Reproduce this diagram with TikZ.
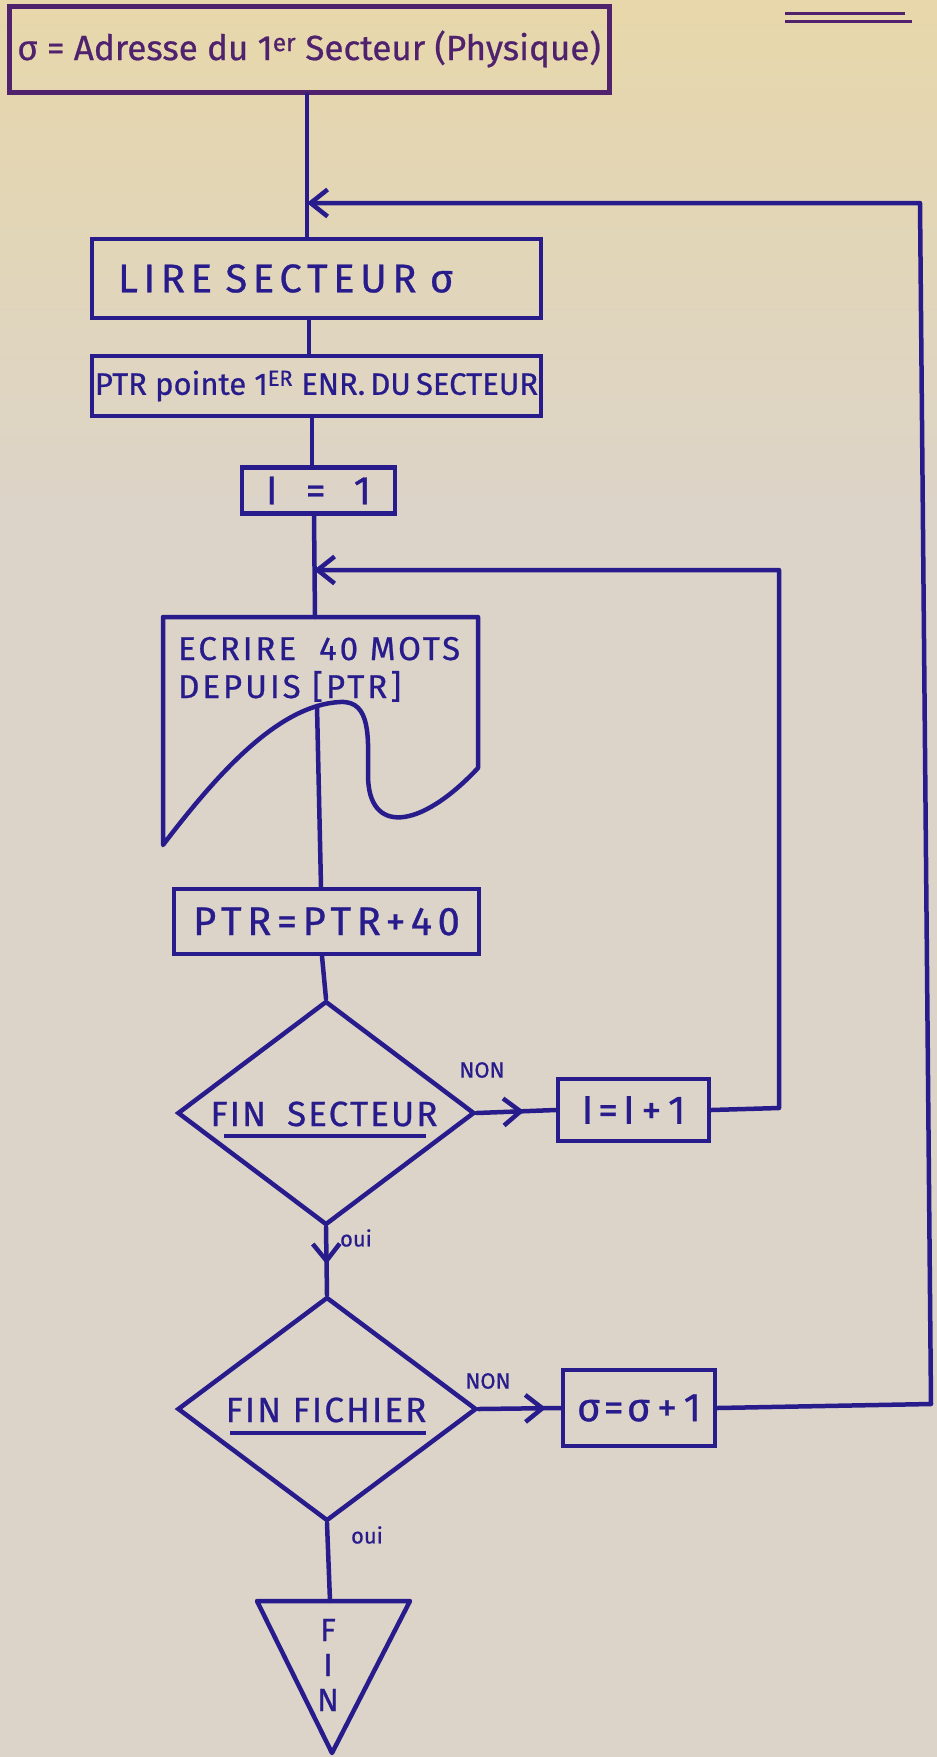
\documentclass[tikz,border=0pt]{standalone}
\usepackage{fontspec}
\setmainfont{Fira Sans}[FakeBold=0.7]
\usetikzlibrary{shapes.geometric, arrows.meta, decorations.markings}
\definecolor{ink}{RGB}{40,28,140}
\definecolor{inkp}{RGB}{80,34,110}
\definecolor{paperA}{RGB}{231,215,170}
\definecolor{paperB}{RGB}{220,212,201}
\newcommand{\ls}[1]{\addfontfeatures{LetterSpace=#1}}
\begin{document}
\begin{tikzpicture}[x=1pt,y=-1pt,
  box/.style={draw=ink, line width=4.5pt, inner sep=0pt, text=ink, rectangle},
  dec/.style={draw=ink, line width=4.5pt, diamond, inner sep=0pt},
  conn/.style={draw=ink, line width=4.5pt, line cap=round, line join=round},
  lab/.style={text=ink, inner sep=0pt, font=\fontsize{22}{24}\selectfont},
  txt/.style={text=ink, inner sep=0pt},
  tip/.style={-{Straight Barb[length=17pt,width=27pt]}},
  midtip/.style={postaction={decorate}, decoration={markings, mark=at position #1 with {\arrow{Straight Barb[length=17pt,width=27pt]}}}},
]
% paper
\fill[paperB] (0,0) rectangle (937,1757);
\shade[top color=paperA, bottom color=paperB] (0,0) rectangle (937,520);
\useasboundingbox (0,0) rectangle (937,1757);

% top-right double underline
\draw[inkp, line width=3pt] (785,13) -- (905,13);
\draw[inkp, line width=3pt] (785,21) -- (912,21);

% nodes
\node[box, draw=inkp, line width=5pt, text=inkp, minimum width=600pt, minimum height=86pt,
      font=\fontsize{35}{37}\selectfont] (top) at (309,49) {σ = Adresse du 1\textsuperscript{er} Secteur (Physique)};
\node[box, text width=397pt, inner xsep=26pt, minimum height=79pt, align=left,
      font=\fontsize{40}{42}\selectfont\ls{14}] (lire) at (316.5,278.5) {LIRE SECTEUR σ};
\node[box, minimum width=449pt, minimum height=60pt,
      font=\fontsize{31}{33}\selectfont] (ptr) at (316.5,386) {PTR pointe 1\textsuperscript{ER} ENR.\,DU\,SECTEUR};
\node[box, minimum width=153pt, minimum height=46pt,
      font=\fontsize{40}{42}\selectfont] (i1) at (318.5,490.5) {I\hspace{0.7em}=\hspace{0.7em}1};

% document shape
\draw[ink, line width=4.5pt, line join=round] (163,845) -- (163,617) -- (478,617) -- (478,768)
  .. controls (420,830) and (368,835) .. (368,775)
  .. controls (368,740) and (372,700) .. (340,702)
  .. controls (280,705) and (220,770) .. (163,845) -- cycle;
\coordinate (doctop) at (315,617);
\coordinate (docwave) at (317,706);
\node[txt, anchor=base west, font=\fontsize{33}{35}\selectfont\ls{9}] (ecr1) at (178,660) {ECRIRE\hspace{0.7em}40 MOTS};
\node[txt, anchor=base west, font=\fontsize{33}{35}\selectfont\ls{9}] (ecr2) at (178,698) {DEPUIS [PTR]};

\node[box, minimum width=305pt, minimum height=65pt,
      font=\fontsize{40}{42}\selectfont\ls{14}] (p40) at (326.5,921.5) {PTR=PTR+40};

\node[dec, minimum width=297pt, minimum height=224pt] (d1) at (326,1113) {};
\node[txt, anchor=base, font=\fontsize{35}{37}\selectfont\ls{6}] (d1t) at (324,1126) {FIN\hspace{0.6em}SECTEUR};
\draw[ink, line width=3.5pt] (224,1136) -- (426,1136);

\node[box, minimum width=151pt, minimum height=62pt,
      font=\fontsize{40}{42}\selectfont\ls{12}] (iinc) at (633.5,1110) {I=I\,+\,1};

\node[dec, minimum width=299pt, minimum height=224pt] (d2) at (327,1409) {};
\node[txt, anchor=base, font=\fontsize{35}{37}\selectfont\ls{6}] (d2t) at (326,1422) {FIN FICHIER};
\draw[ink, line width=3.5pt] (230,1433) -- (426,1433);

\node[box, minimum width=152pt, minimum height=76pt,
      font=\fontsize{40}{42}\selectfont\ls{8}] (sinc) at (639,1408) {σ=σ\,+\,1};

% labels
\node[lab] (non1) at (482,1070) {NON};
\node[lab] (oui1) at (356,1238) {oui};
\node[lab] (non2) at (488,1381) {NON};
\node[lab] (oui2) at (367,1535) {oui};

% FIN triangle
\draw[ink, line width=4.5pt, line join=round] (257,1601) -- (410,1601) -- (332,1753) -- cycle;
\coordinate (fintop) at (330,1601);
\node[txt, font=\fontsize{32}{34}\selectfont] (fF) at (328,1630) {F};
\node[txt, font=\fontsize{32}{34}\selectfont] (fI) at (328,1665) {I};
\node[txt, font=\fontsize{32}{34}\selectfont] (fN) at (328,1700) {N};

% junctions
\coordinate (j1) at (307,203);
\coordinate (j2) at (314,570);
\coordinate (c1) at (920,203);
\coordinate (c2) at (931,1404);
\coordinate (c3) at (779,570);
\coordinate (c4) at (779,1108);
\coordinate (s2) at (309,0);
\coordinate (s3) at (312,0);
\coordinate (s5) at (321,0);
\coordinate (s6) at (322,0);

% connectors
\draw[conn] (top.south -| j1) -- (lire.north -| j1);
\draw[conn] (lire.south -| s2) -- (ptr.north -| s2);
\draw[conn] (ptr.south -| s3) -- (i1.north -| s3);
\draw[conn] (i1.south -| j2) -- (doctop);
\draw[conn] (docwave) -- (p40.north -| s5);
\draw[conn] (p40.south -| s6) -- (d1.north);
\draw[conn, midtip=0.6] (d1.east) -- (iinc.west);
\draw[conn, tip] (iinc.east) -- (c4) -- (c3) -- (j2);
\draw[conn, midtip=0.55] (d1.south) -- (d2.north);
\draw[conn, midtip=0.82] (d2.east) -- (sinc.west);
\draw[conn, tip] (sinc.east) -- (c2) -- (c1) -- (j1);
\draw[conn] (d2.south) -- (fintop);
\end{tikzpicture}
\end{document}
